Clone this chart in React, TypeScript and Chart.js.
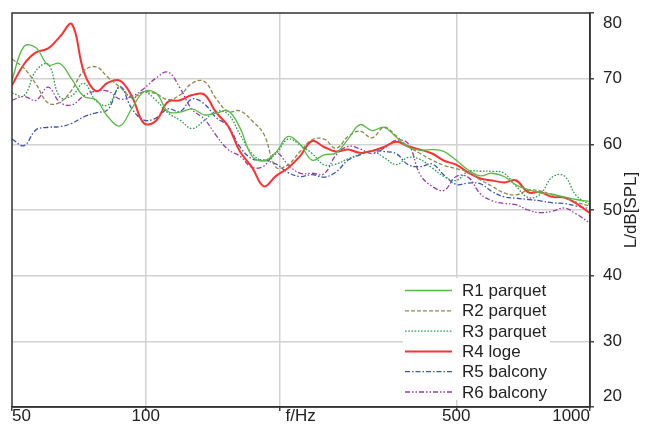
import React, { useEffect, useRef } from 'react';
import { Chart, registerables } from 'chart.js';

Chart.register(...registerables);

const FREQS = [50, 53.2, 56.6, 60.3, 64.1, 68.2, 72.6, 77.3, 82.2, 87.5, 93.1, 99.1, 105.5, 112.2, 119.4, 127.1, 135.3, 143.9, 153.2, 163.0, 173.5, 184.6, 196.5, 209.1, 222.5, 236.8, 252.0, 268.2, 285.4, 303.7, 323.2, 344.0, 366.1, 389.6, 414.6, 441.2, 469.5, 499.7, 531.8, 565.9, 602.2, 640.9, 682.0, 725.8, 772.4, 822.0, 874.8, 931.0, 1000];

const R1 = [69.8, 74.9, 74.7, 72.1, 72.3, 69.9, 67.3, 66.8, 64.2, 62.8, 65.5, 68.0, 67.8, 65.0, 64.9, 65.4, 64.5, 64.7, 65.1, 62.5, 58.2, 57.5, 58.8, 61.2, 60.0, 57.6, 58.4, 58.7, 60.8, 63.0, 62.1, 62.6, 61.1, 59.6, 59.1, 59.2, 58.9, 57.6, 56.1, 55.2, 55.6, 55.1, 53.8, 53.1, 52.6, 52.4, 52.0, 51.6, 51.3];
const R2 = [73.0, 71.6, 69.2, 66.3, 66.4, 68.3, 71.2, 71.8, 70.2, 68.7, 67.2, 68.0, 67.7, 66.8, 67.5, 69.3, 69.6, 67.0, 65.0, 65.1, 63.6, 61.5, 56.5, 56.9, 58.9, 60.7, 60.8, 59.4, 61.2, 62.0, 61.0, 62.6, 61.3, 59.7, 58.6, 57.6, 56.8, 56.3, 55.8, 54.6, 53.6, 52.6, 52.3, 53.0, 52.9, 52.3, 51.9, 51.2, 50.6];
const R3 = [67.8, 67.4, 71.2, 72.2, 67.2, 67.4, 69.3, 66.6, 66.0, 68.7, 67.0, 68.0, 66.7, 64.8, 63.7, 62.4, 63.6, 65.0, 64.6, 61.5, 58.6, 57.5, 58.6, 60.8, 59.9, 58.6, 56.9, 57.0, 57.8, 58.5, 58.9, 58.0, 56.9, 58.0, 57.7, 56.4, 55.1, 54.5, 55.9, 55.9, 55.9, 55.6, 53.6, 51.9, 52.4, 55.0, 55.2, 52.2, 50.8];
const R4 = [69.0, 72.2, 74.0, 74.6, 76.4, 78.3, 71.0, 68.1, 69.4, 69.7, 67.3, 63.2, 63.6, 66.5, 66.7, 67.5, 67.6, 64.9, 62.8, 58.9, 56.5, 53.6, 55.2, 56.4, 58.2, 60.5, 59.6, 58.9, 59.2, 58.7, 59.0, 59.6, 60.4, 59.7, 59.2, 58.6, 57.5, 56.9, 55.7, 54.8, 54.5, 54.2, 54.5, 52.7, 52.7, 52.0, 51.9, 51.0, 49.5];
const R5 = [60.8, 59.8, 62.2, 62.6, 62.7, 63.2, 64.2, 64.8, 65.3, 68.8, 65.4, 63.7, 64.0, 65.4, 65.0, 66.9, 66.2, 64.1, 62.8, 59.6, 57.8, 57.6, 57.0, 55.7, 55.1, 55.4, 55.0, 55.8, 57.6, 58.4, 59.0, 58.9, 58.6, 56.9, 56.6, 57.0, 55.3, 53.9, 54.1, 54.0, 52.8, 52.0, 51.8, 51.6, 51.4, 51.1, 51.0, 50.6, 50.2];
const R6 = [66.7, 67.3, 66.7, 68.7, 66.4, 66.0, 67.4, 68.1, 68.1, 66.9, 67.3, 68.5, 70.1, 71.0, 68.6, 65.3, 63.9, 61.4, 59.2, 58.2, 56.5, 56.7, 58.7, 56.9, 55.6, 55.6, 55.5, 58.4, 59.7, 59.3, 58.6, 59.4, 60.6, 60.1, 55.4, 53.6, 53.0, 55.1, 55.0, 52.5, 51.4, 51.0, 50.8, 50.0, 49.6, 49.8, 50.3, 49.4, 48.0];

const SERIES_LABELS = ['R1 parquet', 'R2 parquet', 'R3 parquet', 'R4 loge', 'R5 balcony', 'R6 balcony'];
const X_TICKS = [50, 100, 500, 1000];
const X_GRID = [100, 200, 500];
const X_TITLE = 'f/Hz';
const Y_TITLE = 'L/dB[SPL]';

const FONT = "'Liberation Sans', Arial, sans-serif";

export default function App() {
  const ref = useRef<HTMLCanvasElement | null>(null);

  useEffect(() => {
    document.body.style.margin = '0';
    const canvas = ref.current;
    if (!canvas) return;

    const seriesValues = [R1, R2, R3, R4, R5, R6];
    const styles = [
      { color: '#55bb44', dash: [] as number[], width: 1.3 },
      { color: '#8c8a4e', dash: [4, 2], width: 1.3 },
      { color: '#2f9a55', dash: [1.6, 1.6], width: 1.3 },
      { color: '#ff3030', dash: [] as number[], width: 2 },
      { color: '#3a55b0', dash: [5, 2, 1.5, 2], width: 1.3 },
      { color: '#9a3aa8', dash: [5, 2, 1.5, 2, 1.5, 2], width: 1.3 },
    ];

    const datasets = seriesValues.map((vals, i) => ({
      label: SERIES_LABELS[i],
      data: FREQS.map((f, j) => ({ x: f, y: vals[j] })),
      borderColor: styles[i].color,
      borderDash: styles[i].dash,
      borderWidth: styles[i].width,
      pointRadius: 0,
      fill: false,
      tension: 0.4,
    }));

    const overlay = {
      id: 'overlay',
      afterDraw(chart: any) {
        const { ctx, chartArea } = chart;
        const xs = chart.scales.x;
        ctx.save();
        ctx.strokeStyle = '#333';
        ctx.lineWidth = 1.5;
        ctx.setLineDash([]);
        ctx.strokeRect(chartArea.left, chartArea.top, chartArea.right - chartArea.left, chartArea.bottom - chartArea.top);

        ctx.fillStyle = '#222';
        ctx.font = `17px ${FONT}`;
        ctx.textBaseline = 'middle';
        X_TICKS.forEach((v, i) => {
          const px = xs.getPixelForValue(v);
          ctx.textAlign = i === 0 ? 'left' : i === X_TICKS.length - 1 ? 'right' : 'center';
          ctx.fillText(String(v), px, 416);
        });
        ctx.textAlign = 'left';
        ctx.fillText(X_TITLE, xs.getPixelForValue(200) + 6, 416);

        ctx.save();
        ctx.translate(631, (chartArea.top + chartArea.bottom) / 2);
        ctx.rotate(-Math.PI / 2);
        ctx.textAlign = 'center';
        ctx.textBaseline = 'middle';
        ctx.fillText(Y_TITLE, 0, 0);
        ctx.restore();

        const bx = 403, by = 278, bw = 147, bh = 122;
        ctx.fillStyle = '#ffffff';
        ctx.fillRect(bx, by, bw, bh);
        chart.data.datasets.forEach((ds: any, i: number) => {
          const y = 290.5 + i * 20.3;
          ctx.strokeStyle = ds.borderColor;
          ctx.lineWidth = ds.borderWidth;
          ctx.setLineDash(ds.borderDash || []);
          ctx.beginPath();
          ctx.moveTo(405, y);
          ctx.lineTo(452, y);
          ctx.stroke();
          ctx.setLineDash([]);
          ctx.fillStyle = '#222';
          ctx.textAlign = 'left';
          ctx.textBaseline = 'middle';
          ctx.fillText(ds.label, 462, y + 1);
        });
        ctx.restore();
      },
    };

    const chart = new Chart(canvas, {
      type: 'line',
      data: { datasets },
      options: {
        animation: false,
        responsive: false,
        maintainAspectRatio: false,
        layout: { padding: { left: 12, top: 13, right: 0, bottom: 0 } },
        plugins: { legend: { display: false }, tooltip: { enabled: false }, title: { display: false } },
        scales: {
          x: {
            type: 'logarithmic',
            min: 50,
            max: 1000,
            afterBuildTicks: (s: any) => {
              s.ticks = [50, 100, 200, 500, 1000].map((v) => ({ value: v }));
            },
            afterFit: (s: any) => {
              s.height = 17;
              s.paddingLeft = 0;
              s.paddingRight = 0;
              s.paddingTop = 0;
              s.paddingBottom = 0;
            },
            ticks: { display: false, autoSkip: false },
            grid: {
              color: (c: any) => (c.tick && X_GRID.includes(c.tick.value) ? '#d2d2d2' : 'rgba(0,0,0,0)'),
              lineWidth: 1.5,
              drawTicks: true,
              tickLength: 4,
              tickColor: '#444',
            },
            border: { display: true, color: '#333', width: 1.5 },
          },
          y: {
            type: 'linear',
            position: 'right',
            min: 20,
            max: 80,
            afterFit: (s: any) => {
              s.width = 65;
              s.paddingLeft = 0;
              s.paddingRight = 0;
              s.paddingTop = 0;
              s.paddingBottom = 0;
            },
            ticks: {
              stepSize: 10,
              padding: 9,
              color: '#222',
              font: { family: FONT, size: 17 },
              callback: (v: any) => (v === 80 ? ['', '80'] : v === 20 ? ['20', ''] : String(v)),
            },
            grid: {
              color: (c: any) => (c.tick && (c.tick.value === 20 || c.tick.value === 80) ? 'rgba(0,0,0,0)' : '#d2d2d2'),
              lineWidth: 1.5,
              drawTicks: true,
              tickLength: 4,
              tickColor: '#444',
            },
            border: { display: true, color: '#333', width: 1.5 },
          },
        },
      },
      plugins: [overlay],
    });

    return () => chart.destroy();
  }, []);

  return (
    <div style={{ width: 655, height: 424 }}>
      <canvas ref={ref} width={655} height={424} style={{ display: 'block' }} />
    </div>
  );
}
